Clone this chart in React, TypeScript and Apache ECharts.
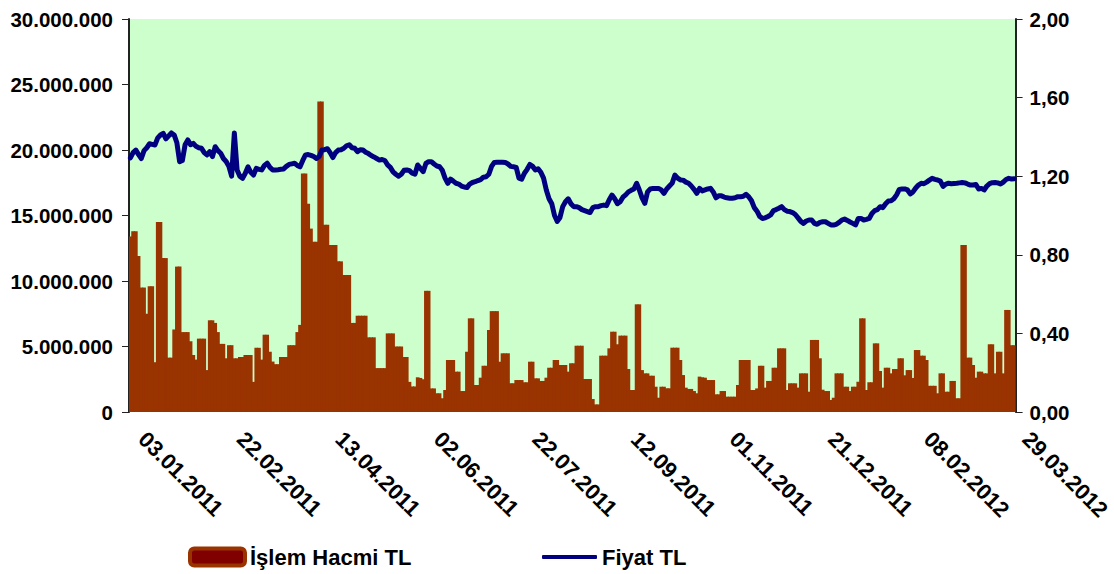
import React, { useEffect, useRef } from "react";
import * as echarts from "echarts";

// ---- Data ----
const START_DATE = [2011, 1, 3];
const END_DATE = [2012, 3, 29];

const X_TICK_LABELS = [
  "03.01.2011", "22.02.2011", "13.04.2011", "02.06.2011", "22.07.2011",
  "12.09.2011", "01.11.2011", "21.12.2011", "08.02.2012", "29.03.2012",
];

// İşlem Hacmi TL, in millions
const VOLUME_M = [
  13.4, 13.8, 13.8, 11.9, 9.5, 9.5, 7.5, 9.6, 9.6, 3.8,
  14.5, 14.5, 11.75, 11.75, 4.15, 4.15, 6.3, 11.1, 11.1, 6.1,
  6.1, 6.1, 5.4, 4.35, 4.0, 5.6, 5.6, 5.6, 3.2, 7.0,
  7.0, 6.8, 6.1, 5.2, 5.2, 4.1, 5.1, 5.1, 4.1, 4.1,
  4.2, 4.2, 4.35, 4.35, 4.35, 2.3, 4.9, 4.9, 4.0, 5.9,
  5.9, 4.6, 3.85, 3.65, 3.65, 4.2, 4.2, 4.2, 5.1, 5.1,
  5.1, 6.1, 6.65, 18.2, 18.2, 15.9, 14.0, 13.0, 13.0, 23.7,
  23.7, 14.3, 14.3, 12.75, 12.75, 12.75, 11.5, 11.5, 10.45, 10.45,
  10.45, 6.8, 6.8, 7.35, 7.35, 7.35, 7.35, 5.7, 5.7, 5.7,
  3.35, 3.35, 3.35, 3.35, 6.0, 6.0, 6.0, 5.0, 5.0, 5.0,
  4.2, 4.2, 2.3, 1.95, 1.95, 2.65, 2.6, 2.5, 9.25, 9.25,
  1.8, 1.8, 1.43, 1.43, 1.05, 1.68, 3.97, 3.97, 3.97, 3.08,
  3.08, 1.6, 1.6, 4.6, 7.15, 7.15, 2.06, 2.06, 2.62, 3.53,
  3.53, 6.26, 7.7, 7.7, 7.7, 3.84, 4.48, 4.48, 4.48, 2.2,
  2.2, 2.44, 2.44, 2.44, 2.27, 2.27, 3.84, 3.84, 2.57, 2.57,
  2.37, 2.37, 2.62, 3.38, 3.38, 3.97, 3.97, 3.59, 3.59, 3.59,
  3.08, 3.72, 3.72, 5.06, 5.06, 5.06, 2.52, 2.52, 2.52, 0.99,
  0.58, 0.58, 4.3, 4.3, 4.3, 4.86, 6.13, 6.13, 5.17, 5.83,
  5.83, 5.83, 3.28, 1.68, 1.68, 8.22, 8.22, 3.2, 2.95, 2.95,
  2.77, 2.77, 1.93, 1.09, 1.93, 1.93, 1.81, 1.81, 4.91, 4.91,
  4.91, 3.97, 2.82, 1.86, 1.76, 1.76, 1.6, 1.43, 2.7, 2.65,
  2.62, 2.44, 2.44, 2.44, 1.35, 1.35, 1.6, 1.6, 1.17, 1.17,
  1.17, 1.17, 2.06, 3.97, 3.97, 3.97, 3.97, 1.68, 1.68, 1.8,
  3.53, 3.53, 1.86, 2.37, 2.37, 3.38, 3.38, 4.86, 4.86, 4.86,
  1.68, 2.19, 2.19, 2.19, 1.86, 2.95, 2.95, 2.95, 1.55, 5.5,
  5.5, 5.5, 4.1, 1.7, 1.6, 1.6, 0.92, 1.09, 2.95, 2.95,
  2.95, 1.93, 1.93, 1.6, 1.93, 1.93, 2.31, 7.15, 7.15, 1.68,
  2.27, 2.27, 5.24, 5.24, 3.13, 1.86, 3.38, 3.38, 2.95, 3.28,
  3.28, 4.1, 4.1, 2.8, 3.2, 3.2, 2.6, 4.73, 4.73, 4.3,
  4.3, 3.97, 2.0, 2.0, 2.0, 1.43, 2.95, 2.95, 1.55, 1.55,
  2.37, 2.37, 1.05, 1.05, 12.75, 12.75, 4.15, 4.15, 3.59, 2.62,
  3.08, 3.08, 2.95, 2.95, 5.17, 5.17, 2.95, 4.6, 4.6, 2.95,
  7.79, 7.79, 5.1, 5.1,
];

// Fiyat TL
const PRICE = [
  1.293, 1.32, 1.333, 1.31, 1.29, 1.33, 1.345, 1.365, 1.362, 1.359,
  1.395, 1.41, 1.418, 1.39, 1.405, 1.42, 1.41, 1.37, 1.274, 1.28,
  1.36, 1.385, 1.36, 1.367, 1.352, 1.345, 1.342, 1.32, 1.308, 1.325,
  1.30, 1.35, 1.33, 1.317, 1.29, 1.275, 1.25, 1.20, 1.42, 1.232,
  1.20, 1.189, 1.215, 1.248, 1.22, 1.206, 1.24, 1.235, 1.232, 1.255,
  1.266, 1.245, 1.232, 1.232, 1.233, 1.235, 1.237, 1.25, 1.26, 1.263,
  1.266, 1.255, 1.248, 1.28, 1.308, 1.31, 1.306, 1.30, 1.29, 1.30,
  1.333, 1.335, 1.34, 1.32, 1.295, 1.32, 1.333, 1.335, 1.342, 1.355,
  1.36, 1.345, 1.342, 1.325, 1.335, 1.333, 1.322, 1.315, 1.305, 1.298,
  1.29, 1.282, 1.285, 1.28, 1.258, 1.245, 1.222, 1.21, 1.20, 1.21,
  1.23, 1.232, 1.228, 1.215, 1.21, 1.257, 1.24, 1.223, 1.265, 1.274,
  1.274, 1.262, 1.252, 1.248, 1.23, 1.19, 1.164, 1.185, 1.175, 1.164,
  1.16, 1.15, 1.145, 1.142, 1.16, 1.168, 1.172, 1.178, 1.183, 1.195,
  1.197, 1.21, 1.25, 1.27, 1.271, 1.271, 1.271, 1.27, 1.262, 1.25,
  1.248, 1.245, 1.19, 1.185, 1.215, 1.235, 1.26, 1.25, 1.232, 1.238,
  1.22, 1.19, 1.13, 1.085, 1.06, 1.00, 0.97, 0.99, 1.045, 1.07,
  1.085, 1.06, 1.045, 1.045, 1.04, 1.03, 1.025, 1.02, 1.015, 1.04,
  1.045, 1.045, 1.05, 1.053, 1.05, 1.08, 1.104, 1.085, 1.06, 1.07,
  1.093, 1.105, 1.12, 1.128, 1.135, 1.164, 1.13, 1.09, 1.062, 1.12,
  1.135, 1.138, 1.138, 1.138, 1.13, 1.113, 1.135, 1.15, 1.165, 1.206,
  1.19, 1.181, 1.18, 1.17, 1.164, 1.15, 1.133, 1.113, 1.138, 1.125,
  1.13, 1.135, 1.138, 1.12, 1.09, 1.10, 1.10, 1.094, 1.09, 1.088,
  1.088, 1.09, 1.096, 1.095, 1.098, 1.108, 1.095, 1.075, 1.04, 1.022,
  0.995, 0.985, 0.988, 0.995, 1.003, 1.025, 1.03, 1.037, 1.045, 1.03,
  1.022, 1.02, 1.015, 1.005, 0.988, 0.97, 0.96, 0.972, 0.977, 0.977,
  0.96, 0.955, 0.965, 0.968, 0.968, 0.96, 0.952, 0.952, 0.955, 0.965,
  0.977, 0.982, 0.975, 0.967, 0.96, 0.952, 0.985, 0.985, 0.977, 0.98,
  0.985, 1.01, 1.025, 1.03, 1.045, 1.04, 1.06, 1.074, 1.075, 1.085,
  1.105, 1.133, 1.135, 1.135, 1.13, 1.11, 1.12, 1.14, 1.155, 1.164,
  1.162, 1.17, 1.18, 1.189, 1.184, 1.181, 1.175, 1.148, 1.16, 1.164,
  1.162, 1.163, 1.164, 1.166, 1.168, 1.166, 1.16, 1.155, 1.155, 1.158,
  1.135, 1.138, 1.13, 1.15, 1.162, 1.167, 1.168, 1.166, 1.16, 1.17,
  1.183, 1.189, 1.186, 1.187,
];

const VOLUME_NAME = "İşlem Hacmi TL";
const PRICE_NAME = "Fiyat TL";

// Trading-day (weekday) calendar for the category axis
function buildWeekdays(start: number[], end: number[]): string[] {
  const out: string[] = [];
  const d = new Date(Date.UTC(start[0], start[1] - 1, start[2]));
  const e = new Date(Date.UTC(end[0], end[1] - 1, end[2]));
  while (d.getTime() <= e.getTime()) {
    const wd = d.getUTCDay();
    if (wd !== 0 && wd !== 6) {
      const dd = String(d.getUTCDate()).padStart(2, "0");
      const mm = String(d.getUTCMonth() + 1).padStart(2, "0");
      out.push(`${dd}.${mm}.${d.getUTCFullYear()}`);
    }
    d.setUTCDate(d.getUTCDate() + 1);
  }
  return out;
}

const FONT = "'Liberation Sans', Arial, sans-serif";

export default function App() {
  const ref = useRef<HTMLDivElement>(null);

  useEffect(() => {
    if (!ref.current) return;
    const chart = echarts.init(ref.current, undefined, { renderer: "svg" });
    const categories = buildWeekdays(START_DATE, END_DATE);
    const volume = VOLUME_M.map((v) => Math.round(v * 1e6));

    const base = {
      fontFamily: FONT,
      fontWeight: "bold" as const,
      color: "#000",
    };

    chart.setOption({
      animation: false,
      backgroundColor: "#ffffff",
      grid: {
        left: 129,
        right: 94,
        top: 19,
        bottom: 162,
        show: true,
        backgroundColor: "#CCFFCC",
        borderWidth: 0,
        containLabel: false,
      },
      legend: [
        {
          data: [
            {
              name: VOLUME_NAME,
              icon: "roundRect",
              itemStyle: { color: "#800000", borderColor: "#993300", borderWidth: 4 },
            },
          ],
          left: 188,
          top: 546,
          padding: 0,
          itemWidth: 55,
          itemHeight: 17,
          textStyle: { ...base, fontSize: 22 },
          selectedMode: false,
        },
        {
          data: [{ name: PRICE_NAME, icon: "roundRect", itemStyle: { color: "#000080" } }],
          left: 542,
          top: 546,
          padding: 0,
          itemWidth: 55,
          itemHeight: 4,
          textStyle: { ...base, fontSize: 22 },
          selectedMode: false,
        },
      ],
      xAxis: {
        type: "category",
        data: categories,
        boundaryGap: true,
        axisLine: { show: false },
        axisTick: { show: false },
        splitLine: { show: false },
        axisLabel: {
          ...base,
          fontSize: 22,
          rotate: -45,
          margin: 27,
          verticalAlign: "bottom",
          padding: [0, 0, 0, 6],
          interval: (_idx: number, value: string) => X_TICK_LABELS.includes(value),
        },
      },
      yAxis: [
        {
          type: "value",
          min: 0,
          max: 30000000,
          interval: 5000000,
          position: "left",
          axisLine: { show: true, lineStyle: { color: "#222", width: 2 } },
          axisTick: { show: true, length: 7, lineStyle: { color: "#222", width: 1 } },
          splitLine: { show: false },
          axisLabel: {
            ...base,
            fontSize: 20.5,
            margin: 16,
            formatter: (v: number) =>
              v === 0 ? "0" : String(Math.round(v)).replace(/\B(?=(\d{3})+(?!\d))/g, "."),
          },
        },
        {
          type: "value",
          min: 0,
          max: 2,
          interval: 0.4,
          position: "right",
          axisLine: { show: true, lineStyle: { color: "#222", width: 2 } },
          axisTick: { show: true, length: 7, lineStyle: { color: "#222", width: 1 } },
          splitLine: { show: false },
          axisLabel: {
            ...base,
            fontSize: 20.5,
            margin: 14,
            formatter: (v: number) => v.toFixed(2).replace(".", ","),
          },
        },
      ],
      series: [
        {
          name: VOLUME_NAME,
          type: "bar",
          yAxisIndex: 0,
          data: volume,
          barWidth: 3.7,
          itemStyle: { color: "#993300" },
          emphasis: { disabled: true },
        },
        {
          name: PRICE_NAME,
          type: "line",
          yAxisIndex: 1,
          data: PRICE,
          symbol: "none",
          lineStyle: { color: "#000080", width: 5, join: "round", cap: "round" },
          itemStyle: { color: "#000080" },
          emphasis: { disabled: true },
          z: 5,
        },
      ],
    });

    return () => chart.dispose();
  }, []);

  return (
    <div
      ref={ref}
      style={{ position: "absolute", left: 0, top: 0, width: 1114, height: 574 }}
    />
  );
}
